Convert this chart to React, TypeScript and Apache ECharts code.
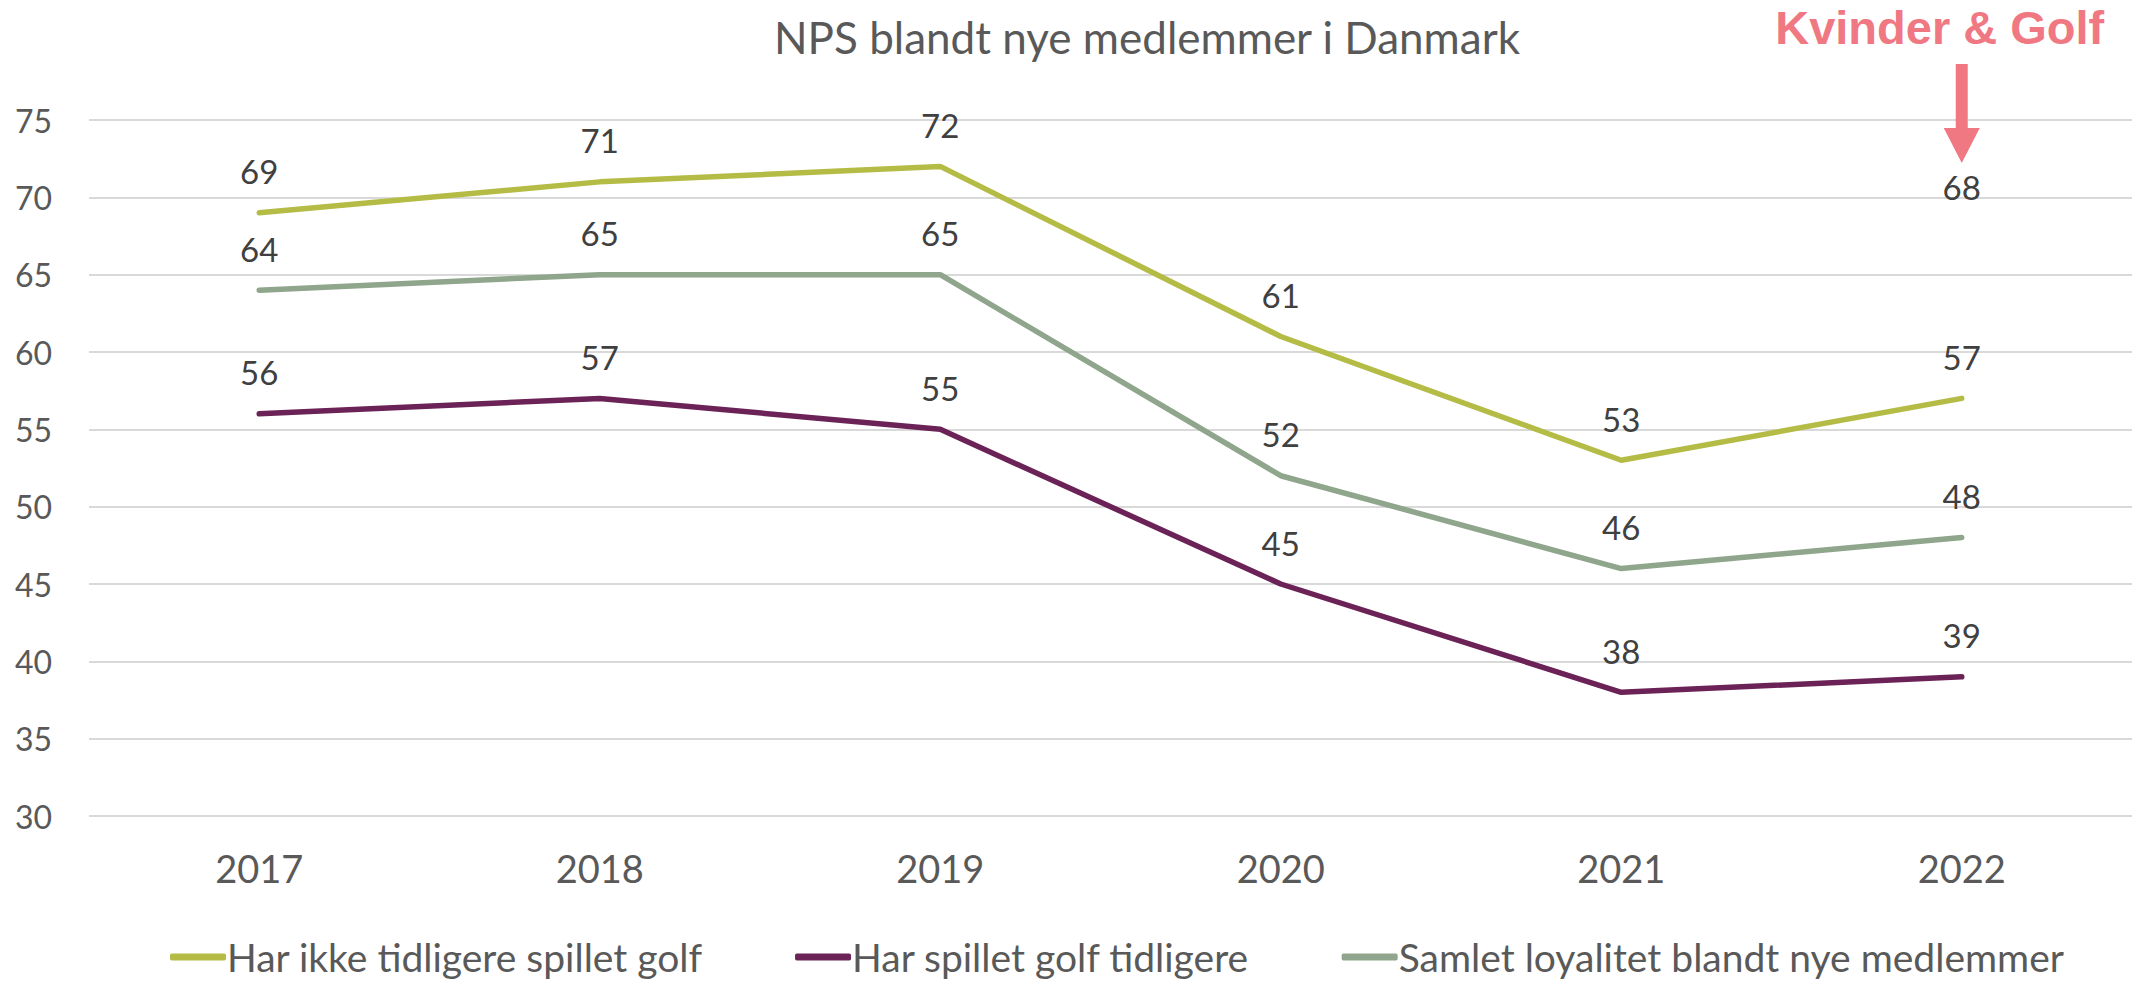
import React, { useEffect, useRef } from "react";
import * as echarts from "echarts";

const years = ["2017", "2018", "2019", "2020", "2021", "2022"];
const harIkke = [69, 71, 72, 61, 53, 57];
const harSpillet = [56, 57, 55, 45, 38, 39];
const samlet = [64, 65, 65, 52, 46, 48];
const kvinder = [null, null, null, null, null, 68];

const seriesNames = [
  "Har ikke tidligere spillet golf",
  "Har spillet golf tidligere",
  "Samlet loyalitet blandt nye medlemmer",
];
const colors = ["#B4BC46", "#6B2256", "#8FA58C"];
const titleText = "NPS blandt nye medlemmer i Danmark";
const calloutText = "Kvinder & Golf";
const calloutColor = "#F07882";

const FONT = "Lato, 'Open Sans', sans-serif";

export default function App() {
  const ref = useRef<HTMLDivElement>(null);
  useEffect(() => {
    document.body.style.margin = "0";
    const chart = echarts.init(ref.current!, null, { renderer: "svg" });
    const mkLine = (name: string, data: (number | null)[], color: string) => ({
      name,
      type: "line",
      data,
      symbol: "circle",
      symbolSize: 0,
      itemStyle: { color },
      lineStyle: { color, width: 5.5, cap: "round", join: "round" },
      label: {
        show: true,
        position: "top",
        distance: 25,
        color: "#404040",
        fontSize: 33,
        fontFamily: FONT,
      },
      emphasis: { disabled: true },
    });
    chart.setOption({
      animation: false,
      textStyle: { fontFamily: FONT },
      title: {
        text: titleText,
        left: 1142,
        top: 10,
        textAlign: "center",
        textStyle: { fontSize: 44, fontWeight: "normal", color: "#595959", fontFamily: FONT },
      },
      grid: { left: 89, right: 24, top: 120, bottom: 174 },
      legend: {
        data: seriesNames,
        left: 165,
        top: 932,
        icon: "roundRect",
        itemWidth: 56,
        itemHeight: 7,
        itemGap: 92,
        textStyle: {
          fontSize: 39,
          lineHeight: 40,
          color: "#595959",
          fontFamily: FONT,
          padding: [0, 0, 0, -4],
        },
      },
      xAxis: {
        type: "category",
        data: years,
        boundaryGap: true,
        axisLine: { show: false },
        axisTick: { show: false },
        axisLabel: { fontSize: 38, color: "#595959", margin: 33, fontFamily: FONT },
      },
      yAxis: {
        type: "value",
        min: 30,
        max: 75,
        interval: 5,
        axisLine: { show: false },
        axisTick: { show: false },
        axisLabel: { fontSize: 32, color: "#595959", margin: 37, fontFamily: FONT },
        splitLine: { lineStyle: { color: "#D9D9D9", width: 2 } },
      },
      series: [
        mkLine(seriesNames[0], harIkke, colors[0]),
        mkLine(seriesNames[1], harSpillet, colors[1]),
        mkLine(seriesNames[2], samlet, colors[2]),
        {
          ...mkLine(calloutText, kvinder, calloutColor),
          lineStyle: { opacity: 0, width: 0 },
        },
      ],
    });
    const px = chart.convertToPixel({ xAxisIndex: 0 }, "2022") as number;
    const cx = typeof px === "number" ? px : 1962;
    chart.setOption({
      graphic: [
        {
          type: "text",
          x: cx - 22,
          y: 27,
          style: {
            text: calloutText,
            fill: calloutColor,
            font: "bold 47px 'Liberation Sans', Arial, sans-serif",
            textAlign: "center",
            textVerticalAlign: "middle",
          },
        },
        {
          type: "rect",
          shape: { x: cx - 6, y: 64, width: 12, height: 66 },
          style: { fill: calloutColor },
        },
        {
          type: "polygon",
          shape: { points: [[cx - 18, 128], [cx + 18, 128], [cx, 163]] },
          style: { fill: calloutColor },
        },
      ],
    });
    return () => chart.dispose();
  }, []);
  return <div ref={ref} style={{ width: 2156, height: 990 }} />;
}
